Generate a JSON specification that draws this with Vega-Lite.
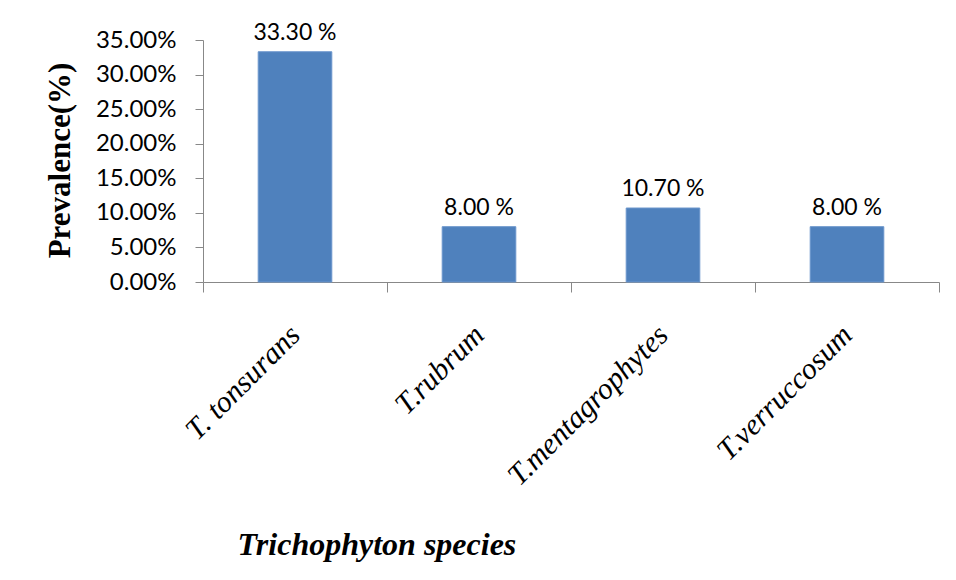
{
  "$schema": "https://vega.github.io/schema/vega-lite/v6.json",
  "autosize": "none",
  "width": 736,
  "height": 242,
  "padding": {"left": 203, "top": 40, "right": 17, "bottom": 298},
  "background": "white",
  "data": {
    "values": [
      {"species": "T. tonsurans", "prevalence": 0.333, "label": "33.30 %"},
      {"species": "T.rubrum", "prevalence": 0.08, "label": "8.00 %"},
      {"species": "T.mentagrophytes", "prevalence": 0.107, "label": "10.70 %"},
      {"species": "T.verruccosum", "prevalence": 0.08, "label": "8.00 %"}
    ]
  },
  "encoding": {
    "x": {
      "field": "species",
      "type": "nominal",
      "sort": null,
      "scale": {"paddingInner": 0, "paddingOuter": 0},
      "axis": {
        "title": "Trichophyton species",
        "titleFont": "Liberation Serif",
        "titleFontStyle": "italic",
        "titleFontWeight": "bold",
        "titleFontSize": 32,
        "titleColor": "#000000",
        "titleAlign": "left",
        "titleBaseline": "alphabetic",
        "titleX": 34,
        "titleY": 272,
        "labelAngle": -45,
        "labelAlign": "right",
        "labelBaseline": "middle",
        "labelFont": "Liberation Serif",
        "labelFontStyle": "italic",
        "labelFontSize": 30,
        "labelColor": "#000000",
        "labelPadding": 38,
        "labelLimit": 0,
        "tickBand": "extent",
        "tickSize": 10,
        "tickColor": "#888888",
        "domainColor": "#888888",
        "grid": false
      }
    },
    "y": {
      "field": "prevalence",
      "type": "quantitative",
      "scale": {"domain": [0, 0.35], "nice": false},
      "axis": {
        "title": "Prevalence(%)",
        "titleFont": "Liberation Serif",
        "titleFontWeight": "bold",
        "titleFontSize": 31,
        "titleColor": "#000000",
        "titleAngle": -90,
        "titleAlign": "center",
        "titleBaseline": "middle",
        "titleX": -143,
        "titleY": 120,
        "values": [0, 0.05, 0.1, 0.15, 0.2, 0.25, 0.3, 0.35],
        "format": ".2%",
        "labelFont": "Lato",
        "labelFontSize": 24,
        "labelColor": "#000000",
        "labelPadding": 19,
        "tickSize": 8,
        "tickColor": "#888888",
        "domainColor": "#888888",
        "grid": false
      }
    }
  },
  "layer": [
    {"mark": {"type": "bar", "width": {"band": 0.4}, "color": "#4F81BD", "stroke": "#6A95CC", "strokeWidth": 1}},
    {
      "mark": {"type": "text", "baseline": "alphabetic", "dy": -12, "font": "Lato", "fontSize": 23, "color": "#000000"},
      "encoding": {"text": {"field": "label"}}
    }
  ],
  "config": {"view": {"stroke": null}}
}
